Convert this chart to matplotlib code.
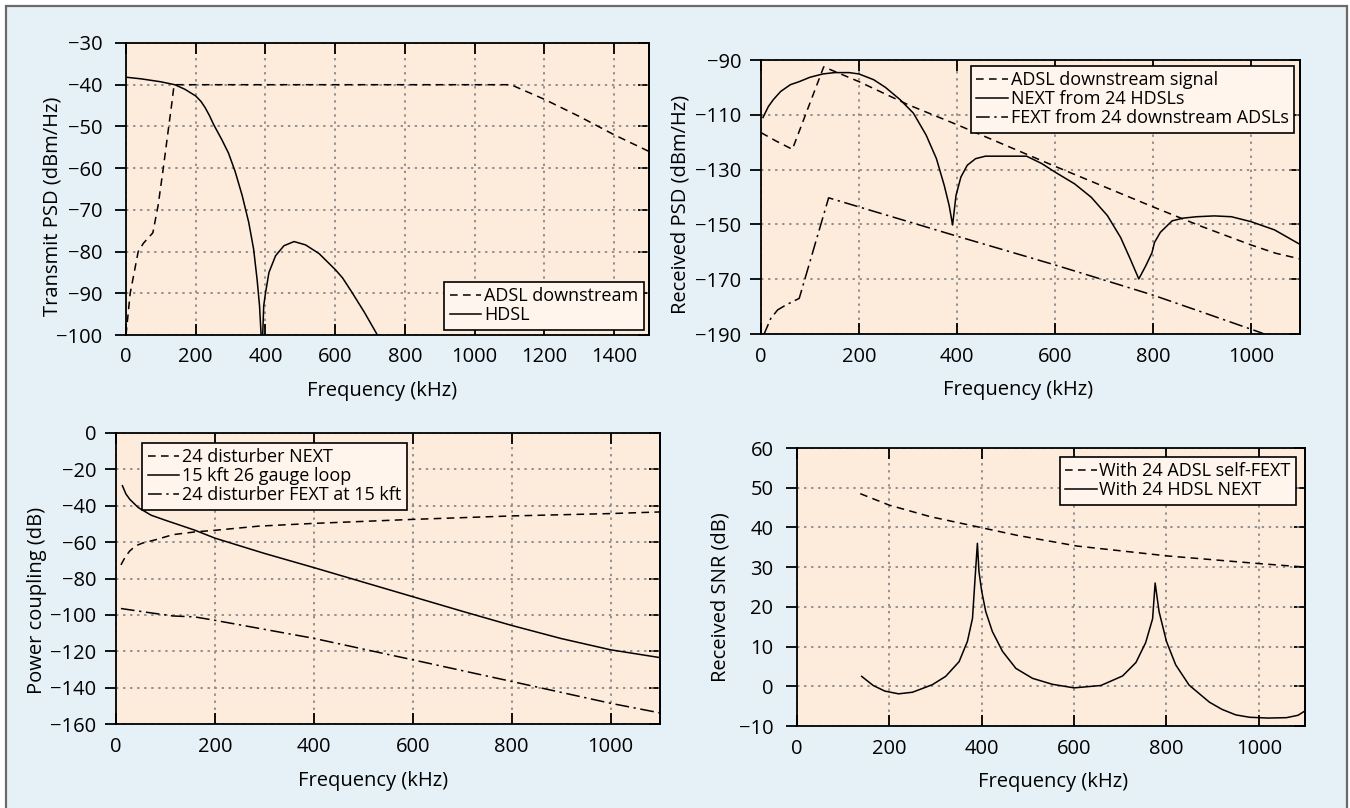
import matplotlib.pyplot as plt
from matplotlib.patches import Rectangle

plt.rcParams['font.family'] = ['Open Sans', 'DejaVu Sans']

# --- top left: transmit PSD ---
tx_adsl_f = [0, 12, 35, 50, 77, 92, 107, 121, 131, 138, 1104, 1200, 1300, 1400, 1500]
tx_adsl_db = [-100, -90, -80, -78, -75.5, -69, -60, -51, -44.7, -40, -40, -43.5, -47.6, -52, -56]
tx_hdsl_f = [0, 44, 100, 140, 169, 200, 215, 227, 240, 251, 262, 275, 294, 313, 333, 352, 366,
             376, 383, 387.5, 389.5, 392, 395, 400, 410, 429, 453, 482, 515, 554, 600, 621, 646,
             684, 721, 727]
tx_hdsl_db = [-38.2, -38.6, -39.3, -40.0, -41.1, -42.7, -44.0, -45.5, -47.5, -49.5, -51.2,
              -53.2, -56.4, -60.8, -66.5, -73, -79.4, -86.7, -93, -100, -115, -100, -93, -90,
              -85, -81, -78.6, -77.6, -78.4, -80.5, -84.3, -86.3, -89.5, -94.6, -100, -101]

# --- top right: received PSD ---
rx_adsl_f = [0, 30, 64, 128, 200, 300, 400, 600, 800, 900, 1000, 1050, 1100]
rx_adsl_db = [-116.5, -119.5, -122.6, -92.5, -97.9, -106.3, -113.6, -128.8, -143.6, -150.8,
              -157.5, -160.5, -162.6]
rx_next_f = [4, 15, 25, 40, 60, 78, 100, 126, 150, 180, 200, 230, 254, 284, 311, 337, 358, 374,
             384, 391, 398, 408, 421, 438, 458, 542, 573, 600, 640, 674, 707, 734, 754, 771, 785,
             798, 803, 815, 839, 862, 889, 925, 960, 1000, 1048, 1100]
rx_next_db = [-111, -107, -104.5, -101.5, -99, -97.9, -96.3, -95.1, -94.6, -94.6, -95.1, -97.2,
              -100, -104.5, -109.4, -117.4, -126, -135.8, -143.1, -150.2, -139.4, -132.7, -128.4,
              -126, -125.1, -125.1, -127.8, -130.9, -135.2, -140.1, -146.8, -154.8, -162.8,
              -169.9, -165.2, -160.3, -156.6, -152.9, -148.7, -147.7, -147.2, -146.9, -147.2,
              -149, -152, -157.3]
rx_fext_f = [4, 20, 34, 51, 78, 138, 400, 600, 800, 900, 1020, 1040]
rx_fext_db = [-191, -184.3, -181.2, -179.4, -177, -140.3, -154.3, -164.8, -175.8, -182, -189.5, -191]

# --- bottom left: power coupling ---
pc_next_f = [10, 19, 28, 40, 54, 80, 115, 159, 200, 289, 400, 600, 800, 1000, 1100]
pc_next_db = [-72.5, -68, -64.8, -62, -60.5, -58.7, -55.9, -54.4, -53.5, -51.2, -49.7, -47.5,
              -45.6, -44.3, -43.4]
pc_loop_f = [13, 20, 28, 45, 71, 98, 159, 200, 300, 400, 500, 600, 700, 800, 900, 1000, 1100]
pc_loop_db = [-29, -33.5, -36.5, -41, -45.2, -47.8, -53.4, -57.8, -66.2, -74, -82, -90, -98,
              -105.8, -113, -119.2, -123.5]
pc_fext_f = [10, 60, 115, 159, 200, 400, 600, 800, 1000, 1100]
pc_fext_db = [-96.5, -98.5, -100.6, -101.1, -103, -112.9, -124.7, -136.6, -148.6, -153.9]

# --- bottom right: received SNR ---
snr_fext_f = [137, 200, 289, 397, 477, 607, 804, 1000, 1102]
snr_fext_db = [48.5, 45.6, 42.7, 40, 38, 35.3, 32.8, 30.9, 30]
snr_next_f = [140, 165, 190, 220, 250, 275, 293, 322, 351, 369, 380, 385.6, 390.6, 394, 400,
              408.7, 423, 445, 474, 510, 553, 600, 658, 705, 734, 755, 770, 775.5, 784, 800,
              820, 849, 893, 920, 950, 980, 1020, 1060, 1085, 1100]
snr_next_db = [2.5, 0.2, -1.2, -1.9, -1.5, -0.4, 0.4, 2.5, 6.2, 11.3, 17.1, 27.2, 36, 28.9,
               23.9, 18.8, 13.8, 8.8, 4.5, 2, 0.5, -0.4, 0.2, 2.6, 6, 11, 17, 26, 18.8, 11.3,
               5.4, 0.3, -4, -5.8, -7.2, -7.8, -8.0, -7.9, -7.3, -6.2]

BG = '#e5f1f7'
FACE = '#fdebdc'
LEG_FACE = '#fff5ec'
DASH = (5, 3.5)
DASHDOT = (9, 3, 1.5, 3)
LW = 1.1

fig = plt.figure(figsize=(13.5, 8.08), dpi=100, facecolor='white')
W, H = 1350, 808
fig.patches.append(Rectangle((6 / W, -0.01), (1347 - 6) / W, 1.01 - 6 / H,
                             transform=fig.transFigure, facecolor=BG,
                             edgecolor='#6a6a6a', linewidth=1.6, zorder=-5))


def px_axes(left, top, right, bottom):
    return fig.add_axes([left / W, (H - bottom) / H, (right - left) / W, (bottom - top) / H])


def style(ax, xlim, ylim, xticks, yticks, xlabel, ylabel, xl_pos, yl_pos, ypad=9):
    ax.set_facecolor(FACE)
    ax.set_xlim(*xlim)
    ax.set_ylim(*ylim)
    ax.set_xticks(xticks)
    ax.set_yticks(yticks)
    ax.grid(True, color='#8a8a8a', linestyle=(0, (1.3, 2.6)), linewidth=1.3)
    ax.set_axisbelow(True)
    for s in ax.spines.values():
        s.set_linewidth(1.3)
    ax.tick_params(axis='x', direction='in', top=True, length=8, width=1.3,
                   labelsize=14.5, pad=9)
    ax.tick_params(axis='y', direction='out', length=8, width=1.3, labelsize=14.5, pad=ypad)
    sec = ax.secondary_yaxis('right')
    sec.set_yticks(yticks)
    sec.tick_params(direction='in', length=8, width=1.3, labelright=False)
    sec.spines['right'].set_linewidth(1.3)
    ax.set_xlabel(xlabel, fontsize=14.5)
    ax.set_ylabel(ylabel, fontsize=14.5)
    ax.xaxis.set_label_coords(*xl_pos)
    ax.yaxis.set_label_coords(*yl_pos)


def legend(ax, **kw):
    leg = ax.legend(fontsize=13, frameon=True, fancybox=False, framealpha=1,
                    labelspacing=0.05, handlelength=1.75, handletextpad=0.15,
                    borderpad=0.3, **kw)
    leg.get_frame().set_facecolor(LEG_FACE)
    leg.get_frame().set_edgecolor('black')
    leg.get_frame().set_linewidth(1.2)
    return leg


# top left
ax1 = px_axes(126, 43, 649, 335)
ax1.plot(tx_adsl_f, tx_adsl_db, color='black', lw=LW, dashes=DASH, label='ADSL downstream')
ax1.plot(tx_hdsl_f, tx_hdsl_db, color='black', lw=LW, label='HDSL')
style(ax1, (0, 1500), (-100, -30), range(0, 1401, 200), range(-100, -29, 10),
      'Frequency (kHz)', 'Transmit PSD (dBm/Hz)', (0.489, -0.157), (-0.122, 0.44))
legend(ax1, loc='lower right', borderaxespad=0.3)

# top right
ax2 = px_axes(761, 60, 1300, 334)
ax2.plot(rx_adsl_f, rx_adsl_db, color='black', lw=LW, dashes=DASH, label='ADSL downstream signal')
ax2.plot(rx_next_f, rx_next_db, color='black', lw=LW, label='NEXT from 24 HDSLs')
ax2.plot(rx_fext_f, rx_fext_db, color='black', lw=LW, dashes=DASHDOT,
         label='FEXT from 24 downstream ADSLs')
style(ax2, (0, 1100), (-190, -90), range(0, 1001, 200), range(-190, -89, 20),
      'Frequency (kHz)', 'Received PSD (dBm/Hz)', (0.477, -0.168), (-0.131, 0.474), ypad=6)
legend(ax2, loc='upper right', borderaxespad=0.33)

# bottom left
ax3 = px_axes(116, 433, 660, 724)
ax3.plot(pc_next_f, pc_next_db, color='black', lw=LW, dashes=DASH, label='24 disturber NEXT')
ax3.plot(pc_loop_f, pc_loop_db, color='black', lw=LW, label='15 kft 26 gauge loop')
ax3.plot(pc_fext_f, pc_fext_db, color='black', lw=LW, dashes=DASHDOT,
         label='24 disturber FEXT at 15 kft')
style(ax3, (0, 1100), (-160, 0), range(0, 1001, 200), range(-160, 1, 20),
      'Frequency (kHz)', 'Power coupling (dB)', (0.472, -0.161), (-0.127, 0.426), ypad=6)
legend(ax3, loc='upper left', bbox_to_anchor=(0.048, 0.966), borderaxespad=0)

# bottom right
ax4 = px_axes(797, 448, 1305, 726)
ax4.plot(snr_fext_f, snr_fext_db, color='black', lw=LW, dashes=DASH, label='With 24 ADSL self-FEXT')
ax4.plot(snr_next_f, snr_next_db, color='black', lw=LW, label='With 24 HDSL NEXT')
style(ax4, (0, 1100), (-10, 60), range(0, 1001, 200), range(-10, 61, 10),
      'Frequency (kHz)', 'Received SNR (dB)', (0.505, -0.165), (-0.130, 0.464))
legend(ax4, loc='upper right', borderaxespad=0.5)

fig.savefig('out.png', dpi=100, facecolor='white')
